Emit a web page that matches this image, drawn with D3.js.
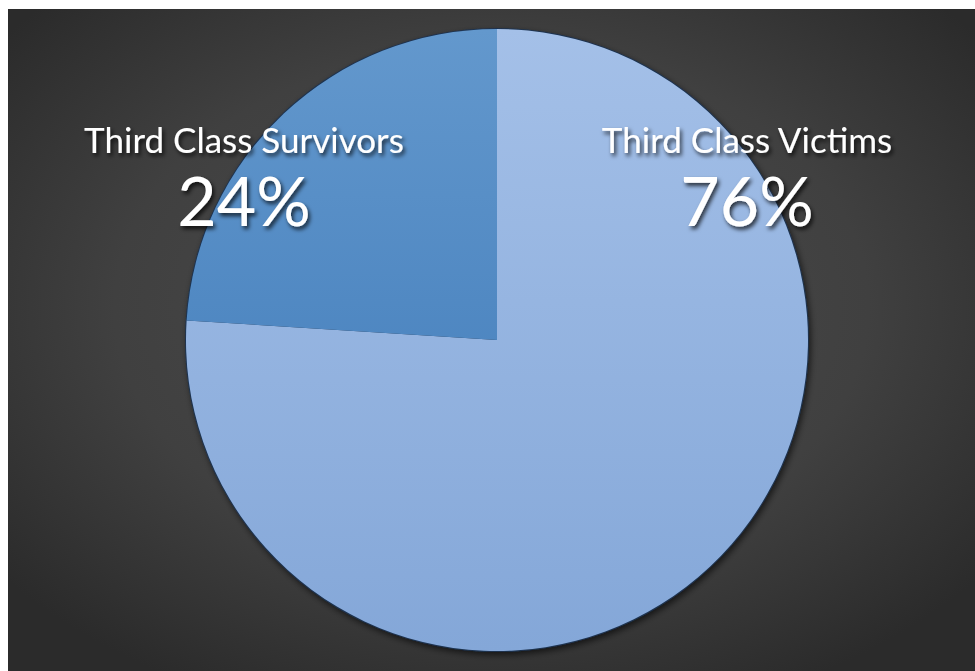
<!DOCTYPE html>
<html>
<head>
<meta charset="utf-8">
<script src="https://cdn.jsdelivr.net/npm/d3@7"></script>
<style>
  html, body { margin: 0; padding: 0; background: #fff; }
  svg { display: block; }
</style>
</head>
<body>
<div id="chart"></div>
<script>
// data
const categories = ["Third Class Victims", "Third Class Survivors"];
const values = [76, 24];
const percentLabels = ["76%", "24%"];

const W = 975, H = 671;
const svg = d3.select("#chart").append("svg")
  .attr("width", W)
  .attr("height", H);

const defs = svg.append("defs");

// dark slide background
const bg = defs.append("radialGradient").attr("id", "bg")
  .attr("cx", "50%").attr("cy", "45%").attr("r", "65%");
bg.append("stop").attr("offset", "0%").attr("stop-color", "#4c4c4c");
bg.append("stop").attr("offset", "60%").attr("stop-color", "#404040");
bg.append("stop").attr("offset", "100%").attr("stop-color", "#2b2b2b");

// slice gradients
const sliceColors = [["#a4c0e8", "#84a7d8"], ["#6398cd", "#3a76b6"]];
sliceColors.forEach((c, i) => {
  const g = defs.append("linearGradient").attr("id", "slice" + i)
    .attr("gradientUnits", "userSpaceOnUse")
    .attr("x1", 0).attr("y1", -311).attr("x2", 0).attr("y2", 311);
  g.append("stop").attr("offset", "0%").attr("stop-color", c[0]);
  g.append("stop").attr("offset", "100%").attr("stop-color", c[1]);
});

const shadow = defs.append("filter").attr("id", "shadow")
  .attr("x", "-10%").attr("y", "-10%").attr("width", "120%").attr("height", "120%");
shadow.append("feDropShadow").attr("dx", 2).attr("dy", 3)
  .attr("stdDeviation", 3).attr("flood-color", "#000").attr("flood-opacity", 0.6);

const textShadow = defs.append("filter").attr("id", "tshadow")
  .attr("x", "-10%").attr("y", "-20%").attr("width", "120%").attr("height", "150%");
textShadow.append("feDropShadow").attr("dx", 2).attr("dy", 3)
  .attr("stdDeviation", 2).attr("flood-color", "#000").attr("flood-opacity", 0.75);

svg.append("rect")
  .attr("x", 8).attr("y", 9)
  .attr("width", W - 8).attr("height", H - 9)
  .attr("fill", "url(#bg)");

const cx = 497, cy = 340, radius = 311;
const g = svg.append("g").attr("transform", `translate(${cx},${cy})`);

const data = categories.map((c, i) => ({name: c, value: values[i], label: percentLabels[i], i}));

const pie = d3.pie().sort(null).value(d => d.value);
const arc = d3.arc().innerRadius(0).outerRadius(radius);

// outline + shadow behind slices
g.append("circle")
  .attr("r", radius + 1)
  .attr("fill", "#1d3350")
  .attr("filter", "url(#shadow)");

g.selectAll("path.slice")
  .data(pie(data))
  .enter()
  .append("path")
  .attr("class", "slice")
  .attr("d", arc)
  .attr("fill", d => `url(#slice${d.data.i})`);

// labels (offsets from centre, placed like the original best-fit labels)
const labelOffsets = [[250, -187], [-253, -187]];

const labels = svg.append("g")
  .attr("font-family", "Lato, 'Open Sans', sans-serif")
  .attr("fill", "#fff")
  .attr("text-anchor", "middle")
  .attr("filter", "url(#tshadow)");

data.forEach((d, i) => {
  const [ox, oy] = labelOffsets[i];
  labels.append("text")
    .attr("x", cx + ox)
    .attr("y", cy + oy)
    .style("font-size", "35px")
    .text(d.name);
  labels.append("text")
    .attr("x", cx + ox)
    .attr("y", cy + oy + 73)
    .style("font-size", "68px")
    .text(d.label);
});
</script>
</body>
</html>
